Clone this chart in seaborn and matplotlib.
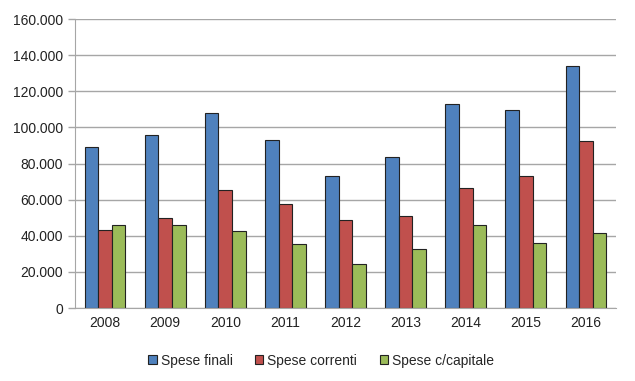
import numpy as np
import pandas as pd
import seaborn as sns
import matplotlib.pyplot as plt
from matplotlib.ticker import FuncFormatter

## DATI
anni = ["2008", "2009", "2010", "2011", "2012", "2013", "2014", "2015", "2016"]
spese_finali = [89400, 95800, 108000, 93100, 73300, 83700, 112700, 109500, 133900]
spese_correnti = [43000, 49900, 65400, 57400, 48600, 50800, 66300, 73300, 92200]
spese_capitale = [46200, 45800, 42500, 35300, 24600, 32700, 46200, 35800, 41400]
serie = ["Spese finali", "Spese correnti", "Spese c/capitale"]
colori = ["#4F81BD", "#C0504D", "#9BBB59"]

df = pd.DataFrame({
    "Anno": anni * 3,
    "Valore": spese_finali + spese_correnti + spese_capitale,
    "Serie": [serie[0]] * 9 + [serie[1]] * 9 + [serie[2]] * 9,
})

sns.set_style("white")
plt.rcParams["font.family"] = ["Liberation Sans", "DejaVu Sans"]

fig = plt.figure(figsize=(6.35, 3.81), dpi=100)
ax = fig.add_axes([75 / 635, 1 - 308 / 381, (616 - 75) / 635, (308 - 19) / 381])

sns.barplot(data=df, x="Anno", y="Valore", hue="Serie", palette=colori,
            saturation=1, width=0.68, gap=0, edgecolor="#222222", linewidth=0.8, ax=ax)

ax.set_ylim(0, 160000)
ax.set_xlim(-0.5, 8.5)
ax.set_yticks(np.arange(0, 160001, 20000))
ax.yaxis.set_major_formatter(FuncFormatter(lambda v, p: f"{int(v):,}".replace(",", ".")))
ax.grid(axis="y", color="#a6a6a6", linewidth=1)
ax.set_axisbelow(True)
ax.set_xlabel("")
ax.set_ylabel("")

for s in ["top", "right"]:
    ax.spines[s].set_visible(False)
ax.spines["left"].set_color("#a6a6a6")
ax.spines["bottom"].set_color("#a6a6a6")

# tacche sui confini delle categorie
ax.set_xticks(np.arange(-0.5, 9, 1), minor=True)
ax.tick_params(axis="x", which="minor", length=5, color="#a6a6a6", width=1)
ax.tick_params(axis="x", which="major", length=0, labelsize=10, pad=6, labelcolor="#222222")
ax.tick_params(axis="y", length=5, color="#a6a6a6", width=1, labelsize=10, labelcolor="#222222", left=True)

ax.legend(loc="upper center", bbox_to_anchor=(0.455, -0.115), ncol=3, frameon=False,
          fontsize=10, handlelength=0.6, handleheight=0.6, handletextpad=0.3,
          columnspacing=1.6)

plt.savefig("out.png", dpi=100)
